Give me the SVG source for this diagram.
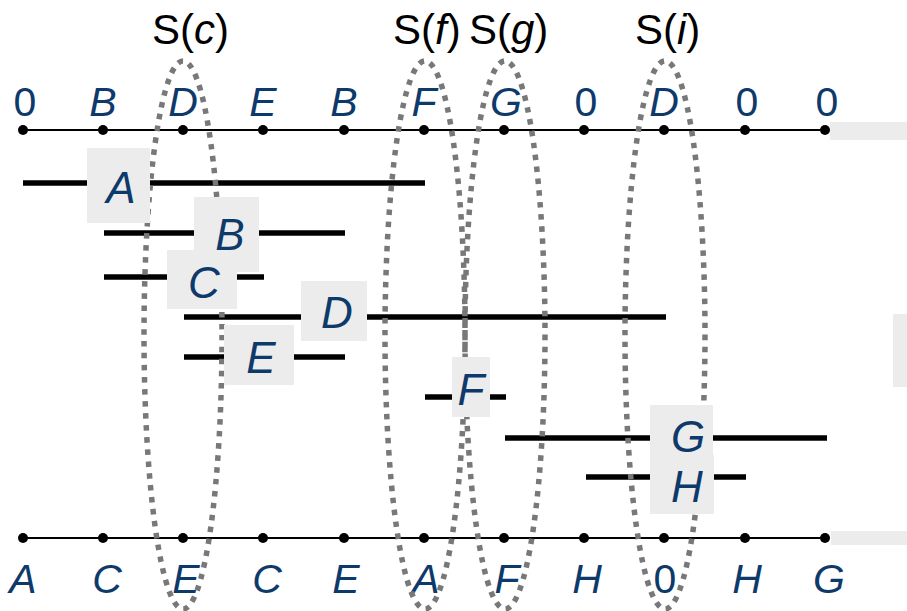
<svg xmlns="http://www.w3.org/2000/svg" width="907" height="611" viewBox="0 0 907 611">
  <style>
    .axis { stroke: #000; stroke-width: 2; fill: none; }
    .pt { fill: #000; }
    .iv { stroke: #000; stroke-width: 5.5; fill: none; }
    .set { stroke: #787878; stroke-width: 5.5; stroke-dasharray: 5.5 6.5; fill: none; }
    .box { fill: #ececec; }
    .lbl { font-family: "Liberation Sans", Arial, sans-serif; font-style: italic; fill: #0d3a6b; text-anchor: middle; }
    .ax { font-size: 41px; }
    .nm { font-size: 44px; }
    .st { font-family: "Liberation Sans", Arial, sans-serif; font-size: 42px; fill: #000; }
    .edge { fill: #ececec; }
  </style>

  <!-- top axis -->
  <g id="axis-top">
    <line class="axis" x1="23" y1="130" x2="825" y2="130"/>
    <g class="pt">
      <circle cx="23" cy="130" r="5"/><circle cx="103" cy="130" r="5"/><circle cx="183" cy="130" r="5"/>
      <circle cx="263" cy="130" r="5"/><circle cx="344" cy="130" r="5"/><circle cx="424" cy="130" r="5"/>
      <circle cx="504" cy="130" r="5"/><circle cx="584" cy="130" r="5"/><circle cx="664" cy="130" r="5"/>
      <circle cx="745" cy="130" r="5"/><circle cx="825" cy="130" r="5"/>
    </g>
    <g class="lbl ax">
      <text x="25" y="116" font-style="normal">0</text>
      <text x="103" y="116">B</text>
      <text x="183" y="116">D</text>
      <text x="263" y="116">E</text>
      <text x="344" y="116">B</text>
      <text x="424" y="116">F</text>
      <text x="506" y="116">G</text>
      <text x="586" y="116" font-style="normal">0</text>
      <text x="664" y="116">D</text>
      <text x="747" y="116" font-style="normal">0</text>
      <text x="827" y="116" font-style="normal">0</text>
    </g>
  </g>

  <!-- bottom axis -->
  <g id="axis-bottom">
    <line class="axis" x1="23" y1="538" x2="825" y2="538"/>
    <g class="pt">
      <circle cx="23" cy="538" r="5"/><circle cx="103" cy="538" r="5"/><circle cx="183" cy="538" r="5"/>
      <circle cx="263" cy="538" r="5"/><circle cx="344" cy="538" r="5"/><circle cx="424" cy="538" r="5"/>
      <circle cx="504" cy="538" r="5"/><circle cx="584" cy="538" r="5"/><circle cx="664" cy="538" r="5"/>
      <circle cx="745" cy="538" r="5"/><circle cx="825" cy="538" r="5"/>
    </g>
    <g class="lbl ax">
      <text x="23" y="593">A</text>
      <text x="107" y="593">C</text>
      <text x="186" y="593">E</text>
      <text x="267" y="593">C</text>
      <text x="346" y="593">E</text>
      <text x="426" y="593">A</text>
      <text x="507" y="593">F</text>
      <text x="587" y="593">H</text>
      <text x="665" y="593" font-style="normal">0</text>
      <text x="747" y="593">H</text>
      <text x="829" y="593">G</text>
    </g>
  </g>

  <!-- interval segments -->
  <g id="connectors">
    <line class="iv" x1="23" y1="183" x2="425" y2="183"/>
    <line class="iv" x1="104" y1="233" x2="345" y2="233"/>
    <line class="iv" x1="104" y1="277" x2="264" y2="277"/>
    <line class="iv" x1="184" y1="317" x2="666" y2="317"/>
    <line class="iv" x1="184" y1="357" x2="345" y2="357"/>
    <line class="iv" x1="425" y1="397" x2="506" y2="397"/>
    <line class="iv" x1="505" y1="438" x2="827" y2="438"/>
    <line class="iv" x1="586" y1="477" x2="746" y2="477"/>
  </g>

  <!-- dotted sets -->
  <g id="sets">
    <ellipse id="set-c" class="set" cx="183" cy="335" rx="39" ry="274"/>
    <ellipse id="set-f" class="set" cx="425" cy="335" rx="40" ry="274"/>
    <ellipse id="set-g" class="set" cx="505" cy="335" rx="40" ry="274"/>
    <ellipse id="set-i" class="set" cx="665" cy="335" rx="40" ry="274"/>
  </g>

  <!-- interval labels -->
  <g id="node-A"><rect class="box" x="87" y="148" width="63" height="75"/><text class="lbl nm" x="121" y="203">A</text></g>
  <g id="node-B"><rect class="box" x="194" y="197" width="65" height="75"/><text class="lbl nm" x="230" y="250">B</text></g>
  <g id="node-C"><rect class="box" x="167" y="250" width="70" height="59"/><text class="lbl nm" x="204" y="298">C</text></g>
  <g id="node-D"><rect class="box" x="301" y="281" width="66" height="60"/><text class="lbl nm" x="337" y="328">D</text></g>
  <g id="node-E"><rect class="box" x="224" y="325" width="70" height="60"/><text class="lbl nm" x="261" y="373">E</text></g>
  <g id="node-F"><rect class="box" x="452" y="357" width="38" height="60"/><text class="lbl nm" x="471" y="405">F</text></g>
  <g id="node-G"><rect class="box" x="650" y="405" width="63" height="60"/><text class="lbl nm" x="688" y="452">G</text></g>
  <g id="node-H"><rect class="box" x="650" y="455" width="64" height="59"/><text class="lbl nm" x="687" y="502">H</text></g>

  <!-- set names -->
  <g id="set-names" class="st">
    <text x="152" y="44">S(<tspan font-style="italic">c</tspan>)</text>
    <text x="393" y="44">S(<tspan font-style="italic">f</tspan>)</text>
    <text x="469" y="44">S(<tspan font-style="italic">g</tspan>)</text>
    <text x="635" y="44">S(<tspan font-style="italic">i</tspan>)</text>
  </g>

  <!-- edge strips -->
  <rect class="edge" x="830" y="122" width="77" height="18"/>
  <rect class="edge" x="893" y="314" width="14" height="73"/>
  <rect class="edge" x="831" y="531" width="76" height="14"/>
</svg>
